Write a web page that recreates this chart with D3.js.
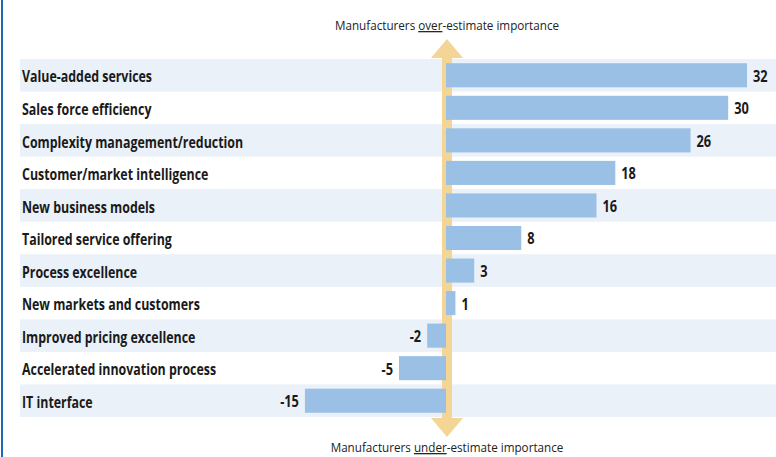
<!DOCTYPE html>
<html>
<head>
<meta charset="utf-8">
<script src="https://cdn.jsdelivr.net/npm/d3@7"></script>
<style>
  html, body { margin: 0; padding: 0; background: #fff; }
  svg { display: block; }
  .cat { font-family: "Open Sans", sans-serif; font-weight: bold; font-size: 15.5px; fill: #1a1a1a; }
  .val { font-family: "Open Sans", sans-serif; font-weight: bold; font-size: 16px; fill: #1a1a1a; }
  .note { font-family: "Open Sans", sans-serif; font-size: 12.7px; fill: #222; }
</style>
</head>
<body>
<script>
// Gap between manufacturer and customer ratings of importance
const categories = [
  "Value-added services",
  "Sales force efficiency",
  "Complexity management/reduction",
  "Customer/market intelligence",
  "New business models",
  "Tailored service offering",
  "Process excellence",
  "New markets and customers",
  "Improved pricing excellence",
  "Accelerated innovation process",
  "IT interface"
];
const gapValues = [32, 30, 26, 18, 16, 8, 3, 1, -2, -5, -15];
const topNote = ["Manufacturers ", "over", "-estimate importance"];
const bottomNote = ["Manufacturers ", "under", "-estimate importance"];

const W = 776, H = 457;
const SX = 0.8;       // horizontal squeeze for the bold labels (condensed look)
const SX_NOTE = 0.92; // lighter squeeze for the notes
const svg = d3.select("body").append("svg").attr("width", W).attr("height", H);

const x = d3.scaleLinear().domain([0, 32]).range([446, 747]);
const y = d3.scaleBand().domain(categories).range([59, 417]).paddingInner(0.26).paddingOuter(0.13);
const step = y.step();
const mid = d => y(d) + y.bandwidth() / 2;

// frame line on the left edge
svg.append("rect").attr("x", 1).attr("y", 0).attr("width", 2).attr("height", H).attr("fill", "#1b67b2");

// alternating row stripes
svg.append("g").selectAll("rect")
  .data(categories.filter((d, i) => i % 2 === 0))
  .join("rect")
  .attr("x", 20).attr("width", W - 20)
  .attr("y", d => y(d) - y.paddingOuter() * step)
  .attr("height", step)
  .attr("fill", "#eaf1f9");

// double-headed arrow along the zero line
const ax = x(0) + 1;
const arrowTop = 39, arrowBot = 437, headH = 19, headW = 16, shaftW = 5;
svg.append("path")
  .attr("d", [
    `M${ax},${arrowTop}`,
    `L${ax + headW},${arrowTop + headH}`,
    `L${ax + shaftW},${arrowTop + headH}`,
    `L${ax + shaftW},${arrowBot - headH}`,
    `L${ax + headW},${arrowBot - headH}`,
    `L${ax},${arrowBot}`,
    `L${ax - headW},${arrowBot - headH}`,
    `L${ax - shaftW},${arrowBot - headH}`,
    `L${ax - shaftW},${arrowTop + headH}`,
    `L${ax - headW},${arrowTop + headH}`,
    "Z"
  ].join(""))
  .attr("fill", "#f3d595");

// bars
svg.append("g").selectAll("rect")
  .data(categories)
  .join("rect")
  .attr("x", (d, i) => Math.min(x(0), x(gapValues[i])))
  .attr("width", (d, i) => Math.abs(x(gapValues[i]) - x(0)))
  .attr("y", d => y(d))
  .attr("height", y.bandwidth())
  .attr("fill", "#9bc0e5");

// text layer squeezed horizontally; x positions are divided by SX
const txt = svg.append("g").attr("transform", `scale(${SX},1)`);

// category labels
txt.append("g").selectAll("text")
  .data(categories)
  .join("text")
  .attr("class", "cat")
  .attr("x", 22 / SX)
  .attr("y", d => mid(d) + 7.2)
  .text(d => d);

// value labels
txt.append("g").selectAll("text")
  .data(categories)
  .join("text")
  .attr("class", "val")
  .attr("x", (d, i) => (gapValues[i] >= 0 ? x(gapValues[i]) + 6 : x(gapValues[i]) - 6) / SX)
  .attr("text-anchor", (d, i) => gapValues[i] >= 0 ? "start" : "end")
  .attr("y", d => mid(d) + 6.5)
  .text((d, i) => gapValues[i]);

// notes above and below the arrow
const notes = svg.append("g").attr("transform", `scale(${SX_NOTE},1)`);
function note(parts, yPos) {
  const t = notes.append("text").attr("class", "note")
    .attr("x", ax / SX_NOTE).attr("y", yPos).attr("text-anchor", "middle");
  parts.forEach((p, i) => {
    const s = t.append("tspan").text(p);
    if (i === 1) s.attr("text-decoration", "underline");
  });
}
note(topNote, 30);
note(bottomNote, 452);
</script>
</body>
</html>
